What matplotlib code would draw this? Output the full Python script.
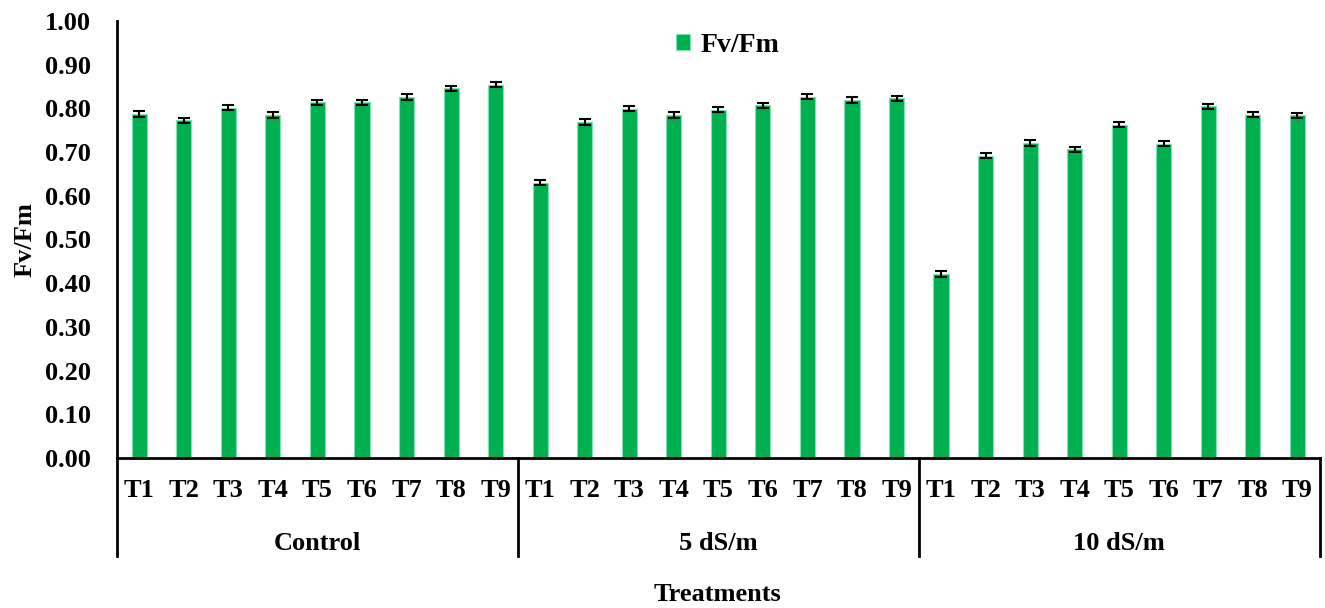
import numpy as np
import matplotlib.pyplot as plt
import matplotlib.transforms as mtransforms

plt.rcParams['font.family'] = ['Liberation Serif', 'DejaVu Serif']
plt.rcParams['font.weight'] = 'bold'

treatments = ['T1', 'T2', 'T3', 'T4', 'T5', 'T6', 'T7', 'T8', 'T9']
groups = ['Control', '5 dS/m', '10 dS/m']

control = [0.787, 0.773, 0.802, 0.785, 0.814, 0.814, 0.826, 0.846, 0.854]
salt5 = [0.630, 0.769, 0.799, 0.785, 0.797, 0.807, 0.827, 0.819, 0.823]
salt10 = [0.421, 0.692, 0.721, 0.706, 0.763, 0.719, 0.805, 0.786, 0.784]
err = [0.006] * 27

vals = control + salt5 + salt10
x = np.arange(len(vals))
fs = 19

fig = plt.figure(figsize=(13.25, 6.08), dpi=100)
ax = fig.add_axes([0.0883, 0.2467, 0.9077, 0.7188])

ax.bar(x, vals, width=0.34, color='#00B050', edgecolor='#7FE0B0', linewidth=0.8,
       yerr=err, capsize=4, error_kw=dict(ecolor='black', elinewidth=1.5, capthick=1.5),
       label='Fv/Fm')

ax.set_xlim(-0.5, len(vals) - 0.5)
ax.set_ylim(0, 1.0)
yt = np.arange(0, 1.01, 0.1)
ax.set_yticks(yt)
ax.set_yticklabels([f'{v:.2f}' for v in yt], fontsize=fs, fontweight='bold')
ax.set_xticks(x)
ax.set_xticklabels(treatments * 3, fontsize=fs, fontweight='bold')
ax.tick_params(axis='y', length=0, pad=19)
ax.tick_params(axis='x', length=0, pad=15)

for s in ['top', 'right']:
    ax.spines[s].set_visible(False)
ax.spines['left'].set_linewidth(2)
ax.spines['bottom'].set_linewidth(2)

# group separators and group names under the tick labels
trans = mtransforms.blended_transform_factory(ax.transData, ax.transAxes)
for b in [-0.5, 8.5, 17.5, 26.5]:
    ax.plot([b, b], [0, -0.225], transform=trans, color='black', lw=2, clip_on=False)
for i, g in enumerate(groups):
    ax.text(i * 9 + 4, -0.196, g, transform=trans, ha='center', va='center',
            fontsize=fs, fontweight='bold')

ax.set_ylabel('Fv/Fm', fontsize=fs, fontweight='bold', labelpad=6)
fig.text(0.5415, 0.022, 'Treatments', ha='center', va='center', fontsize=fs, fontweight='bold')

ax.legend(loc='upper center', bbox_to_anchor=(0.508, 1.03), frameon=False,
          prop={'size': fs + 1, 'weight': 'bold'}, handlelength=0.5, handleheight=0.5,
          handletextpad=0.4)

fig.savefig('out.png', dpi=100)
